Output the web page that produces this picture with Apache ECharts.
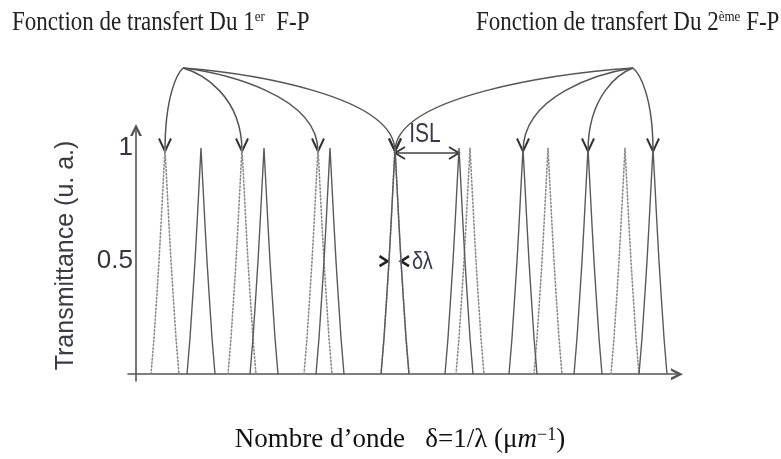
<!DOCTYPE html>
<html>
<head>
<meta charset="utf-8">
<script src="https://cdn.jsdelivr.net/npm/echarts@6/dist/echarts.min.js"></script>
<style>
  html, body { margin: 0; padding: 0; background: #fff; }
  #chart { width: 781px; height: 459px; }
</style>
</head>
<body>
<div id="chart"></div>
<script>
// Peak positions (wavenumber, arbitrary units) of the two Fabry-Perot transfer functions
const fp1Centers = [2.9, 10.6, 18.2, 25.9, 33.4, 41.2, 48.9];          // 1st F-P (dotted)
const fp2Centers = [6.5, 12.8, 19.4, 25.9, 32.3, 38.7, 45.2, 51.7];    // 2nd F-P (solid)

// Shape of a single transmission peak: offset from its centre and transmittance
const peakOffsets = [-1.4, -1.1, -0.8, -0.6, -0.4, -0.2, 0, 0.2, 0.4, 0.6, 0.8, 1.1, 1.4];
const peakValues  = [0, 0.16, 0.36, 0.5, 0.66, 0.83, 1, 0.83, 0.66, 0.5, 0.36, 0.16, 0];

// Y axis ticks
const yTickValues = [0.5, 1];
const yTickLabels = ['0.5', '1'];

// Which peaks the annotation arrows point at
const fp1Arrowed = [0, 1, 2, 3];   // indices into fp1Centers
const fp2Arrowed = [3, 5, 6, 7];   // indices into fp2Centers
const islPair = [3, 4];            // two consecutive fp2 peaks spanning the ISL
const fwhmPeak = 3;                // fp2 peak carrying the δλ marker

const chart = echarts.init(document.getElementById('chart'), null, { renderer: 'canvas' });

// open arrow head used at the ends of both axes
const chevron = 'path://M0,10 L5,0 L10,10 L7.8,10 L5,4.4 L2.2,10 Z';

function peakSeries(center, dotted) {
  return {
    type: 'line',
    data: peakOffsets.map((o, i) => [center + o, peakValues[i]]),
    symbol: 'none',
    silent: true,
    z: dotted ? 2 : 3,
    lineStyle: dotted
      ? { color: '#8a8a8a', width: 1.6, type: [1.4, 2.2], cap: 'round' }
      : { color: '#5a5a5a', width: 1.4 }
  };
}

const series = [];
fp1Centers.forEach(c => series.push(peakSeries(c, true)));
fp2Centers.forEach(c => series.push(peakSeries(c, false)));

const option = {
  backgroundColor: '#ffffff',
  animation: false,
  grid: { left: 128, right: 104, top: 130, bottom: 78, containLabel: false },
  xAxis: {
    type: 'value',
    min: -0.8,
    max: 54.1,
    axisLine: {
      onZero: true,
      lineStyle: { color: '#555', width: 1.6 },
      symbol: ['none', chevron],
      symbolSize: [14, 12]
    },
    axisTick: { show: false },
    axisLabel: { show: false },
    splitLine: { show: false }
  },
  yAxis: {
    type: 'value',
    min: -0.03,
    max: 1.08,
    name: 'Transmittance (u. a.)',
    nameLocation: 'middle',
    nameRotate: 90,
    nameGap: 49,
    nameTextStyle: { fontFamily: 'Liberation Sans', fontSize: 25, color: '#3b3b46' },
    axisLine: {
      onZero: true,
      lineStyle: { color: '#555', width: 1.6 },
      symbol: ['none', chevron],
      symbolSize: [14, 12]
    },
    axisTick: { show: false },
    axisLabel: {
      customValues: yTickValues,
      formatter: v => yTickLabels[yTickValues.indexOf(v)],
      fontFamily: 'Liberation Sans',
      fontSize: 26,
      color: '#35353f',
      margin: -5
    },
    splitLine: { show: false }
  },
  series: series
};

chart.setOption(option);

function toPx(x, y) {
  return chart.convertToPixel({ xAxisIndex: 0, yAxisIndex: 0 }, [x, y]);
}

function arc(origin, target) {
  const [ox, oy] = origin, [tx, ty] = target;
  const dx = tx - ox, dy = ty - oy;
  return {
    type: 'bezierCurve',
    silent: true,
    shape: {
      x1: ox, y1: oy, x2: tx, y2: ty,
      cpx1: ox + 0.3 * dx, cpy1: oy + 0.06 * dy,
      cpx2: tx, cpy2: oy + 0.32 * dy
    },
    style: { stroke: '#555', lineWidth: 1.5, fill: null }
  };
}

function downHead(p) {
  const [x, y] = p;
  return {
    type: 'polyline', silent: true,
    shape: { points: [[x - 6, y - 13], [x, y], [x + 6, y - 13]] },
    style: { stroke: '#333', lineWidth: 2, fill: null }
  };
}

function sideHead(p, dir, w, h, lw, color) {
  const [x, y] = p;
  return {
    type: 'polyline', silent: true,
    shape: { points: [[x - dir * w, y - h], [x, y], [x - dir * w, y + h]] },
    style: { stroke: color, lineWidth: lw, fill: null }
  };
}

function buildGraphic() {
  const g = [];
  const tipY = 0.985;
  const leftOrigin = toPx(4.7, 1.354);
  const rightOrigin = toPx(49.7, 1.354);

  fp1Arrowed.forEach(i => {
    const t = toPx(fp1Centers[i], tipY);
    g.push(arc(leftOrigin, t), downHead(t));
  });
  fp2Arrowed.forEach(i => {
    const t = toPx(fp2Centers[i], tipY);
    g.push(arc(rightOrigin, t), downHead(t));
  });

  // Free spectral range (ISL) between two adjacent peaks
  const a = toPx(fp2Centers[islPair[0]], 0.978);
  const b = toPx(fp2Centers[islPair[1]], 0.978);
  g.push({
    type: 'line', silent: true,
    shape: { x1: a[0], y1: a[1], x2: b[0], y2: b[1] },
    style: { stroke: '#444', lineWidth: 1.6 }
  });
  g.push(sideHead(a, -1, 10, 6, 1.8, '#333'), sideHead(b, 1, 10, 6, 1.8, '#333'));
  const islPos = toPx((fp2Centers[islPair[0]] + fp2Centers[islPair[1]]) / 2 - 0.2, 1.06);
  g.push({
    type: 'text', silent: true, x: islPos[0], y: islPos[1], scaleY: 1.3,
    style: {
      text: 'ISL', fontFamily: 'Liberation Sans', fontSize: 21, fill: '#3a3a4c',
      align: 'center', verticalAlign: 'middle'
    }
  });

  // Peak width marker δλ at half maximum
  const c = fp2Centers[fwhmPeak];
  const l = toPx(c - 0.75, 0.5);
  const r = toPx(c + 0.6, 0.5);
  g.push(sideHead(l, 1, 8, 5, 2.6, '#222'), sideHead(r, -1, 8, 5, 2.6, '#222'));
  g.push({
    type: 'text', silent: true, x: r[0] + 11, y: r[1] + 1, scaleY: 1.2,
    style: {
      text: 'δλ', fontFamily: 'Liberation Sans', fontSize: 20, fill: '#3a3a4c',
      align: 'left', verticalAlign: 'middle'
    }
  });

  // Titles of the two transfer functions
  const titleRich = {
    a: { fontFamily: 'Liberation Serif', fontSize: 23, fill: '#222', color: '#222' },
    s: { fontFamily: 'Liberation Serif', fontSize: 13, fill: '#222', color: '#222', verticalAlign: 'top' }
  };
  g.push({
    type: 'text', silent: true, x: 12, y: 23, scaleY: 1.15,
    style: {
      text: '{a|Fonction de transfert Du 1}{s|er}{a|  F-P}',
      rich: titleRich, align: 'left', verticalAlign: 'middle'
    }
  });
  g.push({
    type: 'text', silent: true, x: 476, y: 23, scaleY: 1.15,
    style: {
      text: '{a|Fonction de transfert Du 2}{s|ème}{a| F-P}',
      rich: titleRich, align: 'left', verticalAlign: 'middle'
    }
  });

  // Horizontal axis title
  g.push({
    type: 'text', silent: true, x: 400, y: 440,
    style: {
      text: '{a|Nombre d’onde   δ=1/λ (μ}{i|m}{s|−1}{a|)}',
      rich: {
        a: { fontFamily: 'Liberation Serif', fontSize: 27, fill: '#111', color: '#111' },
        i: { fontFamily: 'Liberation Serif', fontStyle: 'italic', fontSize: 27, fill: '#111', color: '#111' },
        s: { fontFamily: 'Liberation Serif', fontSize: 18, fill: '#111', color: '#111', verticalAlign: 'top' }
      },
      align: 'center', verticalAlign: 'middle'
    }
  });
  return g;
}

chart.setOption({ graphic: buildGraphic() });
</script>
</body>
</html>
